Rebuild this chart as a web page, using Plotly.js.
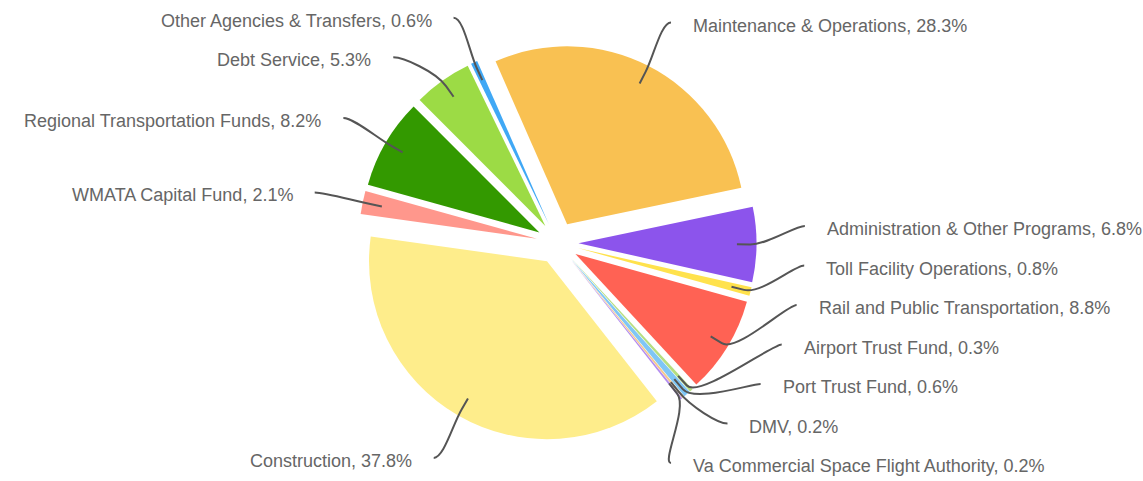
<!DOCTYPE html>
<html>
<head>
<meta charset="utf-8">
<script src="https://cdn.plot.ly/plotly-3.0.1.min.js"></script>
<style>html,body{margin:0;padding:0;background:#fff;}#chart{width:1143px;height:481px;}</style>
</head>
<body>
<div id="chart"></div>
<script>
// ---- data ----
const categories = [
  "Maintenance & Operations",
  "Administration & Other Programs",
  "Toll Facility Operations",
  "Rail and Public Transportation",
  "Airport Trust Fund",
  "Port Trust Fund",
  "DMV",
  "Va Commercial Space Flight Authority",
  "Construction",
  "WMATA Capital Fund",
  "Regional Transportation Funds",
  "Debt Service",
  "Other Agencies & Transfers"
];
const shares = [28.3, 6.8, 0.8, 8.8, 0.3, 0.6, 0.2, 0.2, 37.8, 2.1, 8.2, 5.3, 0.6];
const colors = ["#F9C152", "#8C54EC", "#FFE24C", "#FF6254", "#B5DE80", "#7FC6F5",
                "#F5C98C", "#B38BEF", "#FEED8B", "#FF978C", "#339900", "#9CDB45", "#40A8F5"];

// ---- layout constants ----
const W = 1143, H = 481;
const CX = 557.5, CY = 243, R = 178, PULL = 0.118, ROT = -23.7;
const LABEL_R = 227, GAP = 39.5, YMIN = 12, YMAX = 463;
const FONT = {family: "Liberation Sans, Arial, sans-serif", size: 18, color: "#666666"};

const half = R * (1 + PULL);
const P = R * PULL;
const total = shares.reduce((a, b) => a + b, 0);
const d2r = Math.PI / 180;

// geometry of each slice (derived from values)
let cum = 0;
const items = shares.map((v, i) => {
  const mid = ROT + (cum + v / 2) / total * 360;
  cum += v;
  const a = mid * d2r;
  const ux = Math.sin(a), uy = -Math.cos(a);
  const cx = CX + P * ux, cy = CY + P * uy;
  return {
    i, ux, uy, cx, cy,
    side: ux >= 0 ? 1 : -1,
    sx: cx + 0.89 * R * ux, sy: cy + 0.89 * R * uy,
    y: cy + LABEL_R * uy
  };
});

// avoid overlapping labels on each side
[1, -1].forEach(side => {
  const g = items.filter(d => d.side === side).sort((a, b) => a.y - b.y);
  for (let k = 1; k < g.length; k++) g[k].y = Math.max(g[k].y, g[k - 1].y + GAP);
  g[g.length - 1].y = Math.min(g[g.length - 1].y, YMAX);
  for (let k = g.length - 2; k >= 0; k--) g[k].y = Math.min(g[k].y, g[k + 1].y - GAP);
  g[0].y = Math.max(g[0].y, YMIN);
  for (let k = 1; k < g.length; k++) g[k].y = Math.max(g[k].y, g[k - 1].y + GAP);
  g.forEach(d => {
    const dy = d.y - d.cy;
    d.x = d.cx + side * Math.sqrt(Math.max(0, LABEL_R * LABEL_R - dy * dy));
  });
});

const px = x => x / W, py = y => 1 - y / H;
const shapes = [], annotations = [];
items.forEach(d => {
  const ex = d.sx + 13 * d.ux, ey = d.sy + 13 * d.uy;
  const c1x = ex + 18 * d.ux, c1y = ey + 18 * d.uy;
  const c2x = d.x - d.side * 10, c2y = d.y;
  shapes.push({
    type: "path", xref: "paper", yref: "paper",
    path: `M ${px(d.sx)} ${py(d.sy)} L ${px(ex)} ${py(ey)} C ${px(c1x)} ${py(c1y)}, ${px(c2x)} ${py(c2y)}, ${px(d.x)} ${py(d.y)}`,
    line: {color: "#555555", width: 2}
  });
  annotations.push({
    xref: "paper", yref: "paper",
    x: px(d.x + d.side * 20), y: py(d.y + 3),
    xanchor: d.side > 0 ? "left" : "right", yanchor: "middle",
    text: categories[d.i] + ", " + shares[d.i].toFixed(1) + "%",
    showarrow: false, font: FONT
  });
});

const trace = {
  type: "pie",
  labels: categories,
  values: shares,
  sort: false,
  direction: "clockwise",
  rotation: ROT,
  pull: shares.map(() => PULL),
  marker: {colors: colors, line: {width: 0}},
  textinfo: "none",
  hoverinfo: "label+percent",
  domain: {x: [(CX - half) / W, (CX + half) / W], y: [(H - CY - half) / H, (H - CY + half) / H]},
  showlegend: false
};

Plotly.newPlot("chart", [trace], {
  width: W, height: H,
  margin: {l: 0, r: 0, t: 0, b: 0},
  paper_bgcolor: "#ffffff",
  showlegend: false,
  shapes: shapes,
  annotations: annotations
}, {displayModeBar: false, staticPlot: true});
</script>
</body>
</html>
